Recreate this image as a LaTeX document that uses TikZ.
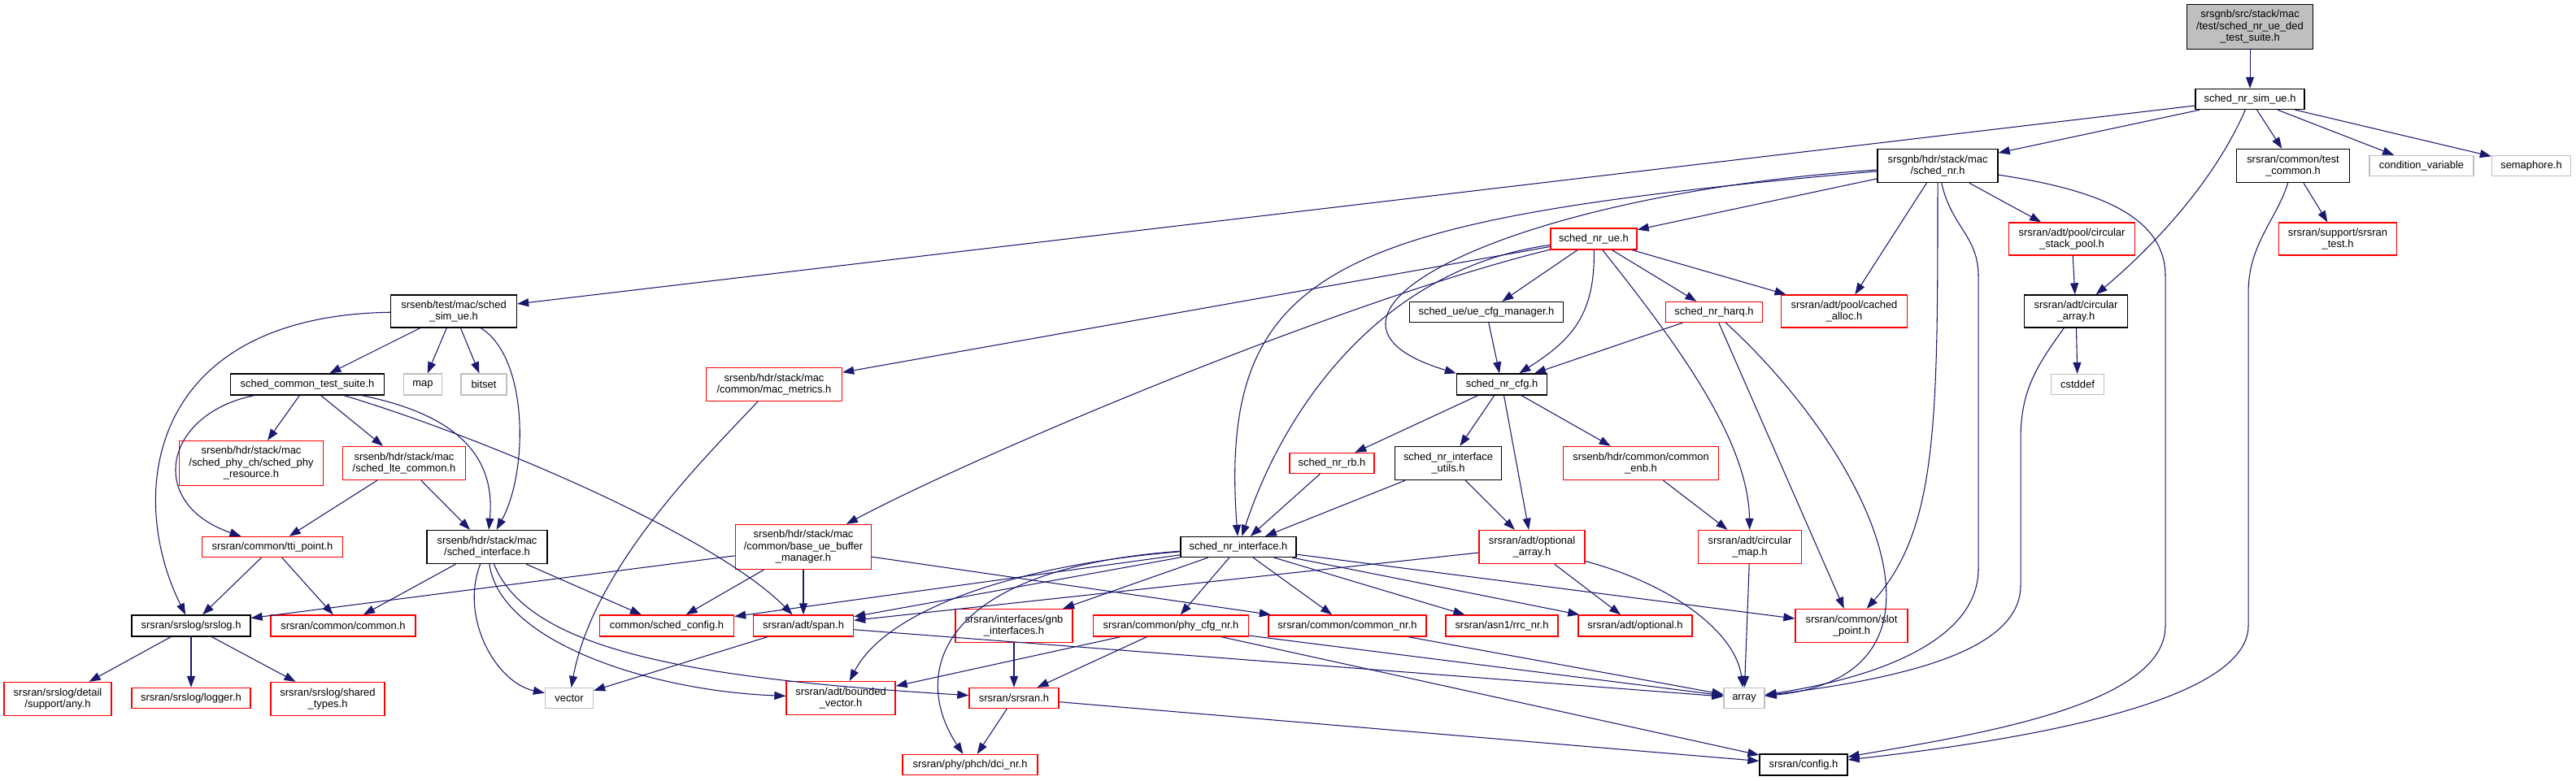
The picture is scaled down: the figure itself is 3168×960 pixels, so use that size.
\documentclass[tikz,border=0pt]{standalone}
\usepackage{fontspec}
\setmainfont{Liberation Sans}
\usetikzlibrary{arrows.meta}
\definecolor{edgeblue}{HTML}{191970}
\definecolor{extgray}{HTML}{BFBFBF}
\definecolor{trred}{HTML}{FF0000}
\tikzset{
  basebox/.style={rectangle, inner sep=0pt, align=center, line width=1pt, font=\fontsize{9.7}{10.9}\selectfont, fill=white},
  kbox/.style={basebox, draw=black},
  rbox/.style={basebox, draw=trred},
  gbox/.style={basebox, draw=extgray},
  ed/.style={draw=edgeblue, line width=0.8pt, -{Triangle[length=10.5pt,width=7.5pt]}},
}
\newcommand\mknode[7]{\node[#6, minimum width=#4*0.75pt, minimum height=#5*0.75pt] (#1) at (#2,#3) {#7};}
\begin{document}
\begin{tikzpicture}[x=0.75pt,y=-0.75pt]
\fill[white] (0,0) rectangle (3168,960);
\useasboundingbox (0,0) rectangle (3168,960);
% nodes
\mknode{top}{2767}{33}{155}{55}{kbox,fill=extgray}{srsgnb/src/stack/mac\\/test/sched\_nr\_ue\_ded\\\_test\_suite.h}
\mknode{simue}{2767}{122}{134}{25}{kbox}{sched\_nr\_sim\_ue.h}
\mknode{schednr}{2383}{204}{148}{41}{kbox}{srsgnb/hdr/stack/mac\\/sched\_nr.h}
\mknode{testcommon}{2820}{204}{139}{41}{kbox}{srsran/common/test\\\_common.h}
\mknode{condvar}{2978}{204}{128}{25}{gbox}{condition\_variable}
\mknode{semaphore}{3113}{204}{97}{25}{gbox}{semaphore.h}
\mknode{schedsimue}{558}{383}{155}{40}{kbox}{srsenb/test/mac/sched\\\_sim\_ue.h}
\mknode{schednrue}{1960}{294}{106}{26}{rbox}{sched\_nr\_ue.h}
\mknode{stackpool}{2548}{294}{155}{40}{rbox}{srsran/adt/pool/circular\\\_stack\_pool.h}
\mknode{srsrantest}{2875}{294}{145}{40}{rbox}{srsran/support/srsran\\\_test.h}
\mknode{cachedalloc}{2268}{383}{155}{40}{rbox}{srsran/adt/pool/cached\\\_alloc.h}
\mknode{circarray}{2553}{383}{127}{40}{kbox}{srsran/adt/circular\\\_array.h}
\mknode{uecfg}{1828}{384}{189}{25}{kbox}{sched\_ue/ue\_cfg\_manager.h}
\mknode{harq}{2108}{384}{119}{25}{rbox}{sched\_nr\_harq.h}
\mknode{sctestsuite}{378}{473}{189}{26}{kbox}{sched\_common\_test\_suite.h}
\mknode{map}{520}{473}{47}{26}{gbox}{map}
\mknode{bitset}{595}{473}{56}{26}{gbox}{bitset}
\mknode{macmetrics}{952}{473}{167}{41}{rbox}{srsenb/hdr/stack/mac\\/common/mac\_metrics.h}
\mknode{nrcfg}{1847}{473}{111}{26}{kbox}{sched\_nr\_cfg.h}
\mknode{cstddef}{2555}{473}{65}{25}{gbox}{cstddef}
\mknode{phyres}{309}{570}{177}{55}{rbox}{srsenb/hdr/stack/mac\\/sched\_phy\_ch/sched\_phy\\\_resource.h}
\mknode{ltecommon}{497}{570}{151}{41}{rbox}{srsenb/hdr/stack/mac\\/sched\_lte\_common.h}
\mknode{nrrb}{1638}{570}{104}{25}{rbox}{sched\_nr\_rb.h}
\mknode{ifutils}{1781}{570}{131}{41}{kbox}{sched\_nr\_interface\\\_utils.h}
\mknode{commonenb}{2018}{570}{191}{41}{rbox}{srsenb/hdr/common/common\\\_enb.h}
\mknode{tti}{335}{673}{173}{25}{rbox}{srsran/common/tti\_point.h}
\mknode{schedif}{599}{673}{148}{41}{kbox}{srsenb/hdr/stack/mac\\/sched\_interface.h}
\mknode{bufmgr}{988}{673}{167}{55}{rbox}{srsenb/hdr/stack/mac\\/common/base\_ue\_buffer\\\_manager.h}
\mknode{nrif}{1523}{673}{142}{25}{kbox}{sched\_nr\_interface.h}
\mknode{optarray}{1884}{673}{130}{41}{rbox}{srsran/adt/optional\\\_array.h}
\mknode{circmap}{2152}{673}{127}{41}{rbox}{srsran/adt/circular\\\_map.h}
\mknode{srslog}{235}{770}{146}{26}{kbox}{srsran/srslog/srslog.h}
\mknode{common}{422}{770}{178}{26}{rbox}{srsran/common/common.h}
\mknode{schedconfig}{820}{770}{165}{26}{rbox}{common/sched\_config.h}
\mknode{span}{988}{770}{123}{26}{rbox}{srsran/adt/span.h}
\mknode{gnbif}{1247}{770}{144}{41}{rbox}{srsran/interfaces/gnb\\\_interfaces.h}
\mknode{phycfg}{1440}{770}{191}{26}{rbox}{srsran/common/phy\_cfg\_nr.h}
\mknode{commonnr}{1657}{770}{194}{26}{rbox}{srsran/common/common\_nr.h}
\mknode{rrcnr}{1847}{770}{138}{26}{rbox}{srsran/asn1/rrc\_nr.h}
\mknode{optional}{2011}{770}{140}{26}{rbox}{srsran/adt/optional.h}
\mknode{slotpoint}{2277}{770}{138}{41}{rbox}{srsran/common/slot\\\_point.h}
\mknode{any}{71}{860}{132}{41}{rbox}{srsran/srslog/detail\\/support/any.h}
\mknode{logger}{235}{859}{146}{25}{rbox}{srsran/srslog/logger.h}
\mknode{sharedtypes}{403}{860}{140}{41}{rbox}{srsran/srslog/shared\\\_types.h}
\mknode{vector}{700}{859}{59}{25}{gbox}{vector}
\mknode{boundedvec}{1034}{859}{134}{41}{rbox}{srsran/adt/bounded\\\_vector.h}
\mknode{srsranh}{1247}{859}{110}{25}{rbox}{srsran/srsran.h}
\mknode{array}{2145}{859}{50}{25}{gbox}{array}
\mknode{dcinr}{1193}{941}{166}{25}{rbox}{srsran/phy/phch/dci\_nr.h}
\mknode{config}{2218}{941}{108}{26}{kbox}{srsran/config.h}
% straight edges
\foreach \a/\b in {top/simue, simue/schedsimue, simue/schednr, simue/testcommon, simue/condvar, simue/semaphore,
  schednr/schednrue, schednr/stackpool, schednr/cachedalloc, testcommon/srsrantest, stackpool/circarray,
  circarray/cstddef, schednrue/uecfg, schednrue/harq, schednrue/cachedalloc, schednrue/macmetrics,
  uecfg/nrcfg, harq/nrcfg, harq/slotpoint, schedsimue/sctestsuite, schedsimue/map, schedsimue/bitset,
  sctestsuite/phyres, sctestsuite/ltecommon, ltecommon/tti, ltecommon/schedif, tti/srslog, tti/common,
  schedif/common, schedif/schedconfig, srslog/any, srslog/logger, srslog/sharedtypes,
  bufmgr/srslog, bufmgr/schedconfig, bufmgr/span, bufmgr/commonnr, span/vector, span/array,
  nrcfg/nrrb, nrcfg/ifutils, nrcfg/optarray, nrcfg/commonenb, nrrb/nrif, ifutils/nrif, ifutils/optarray,
  commonenb/circmap, optarray/span, optarray/optional, circmap/array,
  nrif/schedconfig, nrif/span, nrif/gnbif, nrif/phycfg, nrif/commonnr, nrif/rrcnr, nrif/optional, nrif/slotpoint,
  gnbif/srsranh, phycfg/boundedvec, phycfg/srsranh, phycfg/array, phycfg/config, commonnr/array,
  srsranh/dcinr, srsranh/config}
  {\draw[ed] (\a) -- (\b);}
% curved edges
\draw[ed] (simue) .. controls (2720,230) and (2640,310) .. (circarray);
\draw[ed] (schednr) .. controls (1850,240) and (1560,390) .. (nrcfg.north west);
\draw[ed] (schednr) .. controls (1650,270) and (1497,320) .. (nrif);
\draw[ed] (schednr) .. controls (2383,520) and (2383,650) .. (slotpoint);
\draw[ed] (schednr) .. controls (2400,280) and (2433,290) .. (2433,340) -- (2433,700) .. controls (2433,780) and (2330,830) .. (array);
\draw[ed] (schednr) .. controls (2590,235) and (2663,270) .. (2663,340) -- (2663,770) .. controls (2663,870) and (2420,905) .. (config);
\draw[ed] (testcommon) .. controls (2800,270) and (2765,300) .. (2765,360) -- (2765,770) .. controls (2765,870) and (2450,915) .. (config);
\draw[ed] (circarray) .. controls (2505,450) and (2485,480) .. (2485,540) -- (2485,720) .. controls (2485,790) and (2380,830) .. (array);
\draw[ed] (schednrue) .. controls (1962,390) and (1930,420) .. (nrcfg);
\draw[ed] (schednrue) .. controls (1700,330) and (1580,500) .. (nrif);
\draw[ed] (schednrue) .. controls (1650,370) and (1200,560) .. (bufmgr);
\draw[ed] (schednrue) .. controls (2060,420) and (2150,540) .. (circmap);
\draw[ed] (harq) .. controls (2300,560) and (2430,830) .. (array);
\draw[ed] (schedsimue) .. controls (180,389) and (155,610) .. (srslog);
\draw[ed] (schedsimue) .. controls (650,440) and (650,580) .. (schedif);
\draw[ed] (sctestsuite) .. controls (200,510) and (180,620) .. (tti);
\draw[ed] (sctestsuite) .. controls (560,510) and (610,560) .. (schedif);
\draw[ed] (sctestsuite) .. controls (600,540) and (880,660) .. (span);
\draw[ed] (schedif) .. controls (565,760) and (610,840) .. (vector);
\draw[ed] (schedif) .. controls (615,790) and (800,850) .. (boundedvec);
\draw[ed] (schedif) .. controls (650,800) and (850,835) .. (srsranh);
\draw[ed] (macmetrics) .. controls (860,570) and (730,700) .. (vector);
\draw[ed] (nrif) .. controls (1250,695) and (1090,750) .. (boundedvec);
\draw[ed] (nrif) .. controls (1150,700) and (1120,830) .. (dcinr);
\draw[ed] (optarray) .. controls (2060,720) and (2135,780) .. (array);
\end{tikzpicture}
\end{document}
